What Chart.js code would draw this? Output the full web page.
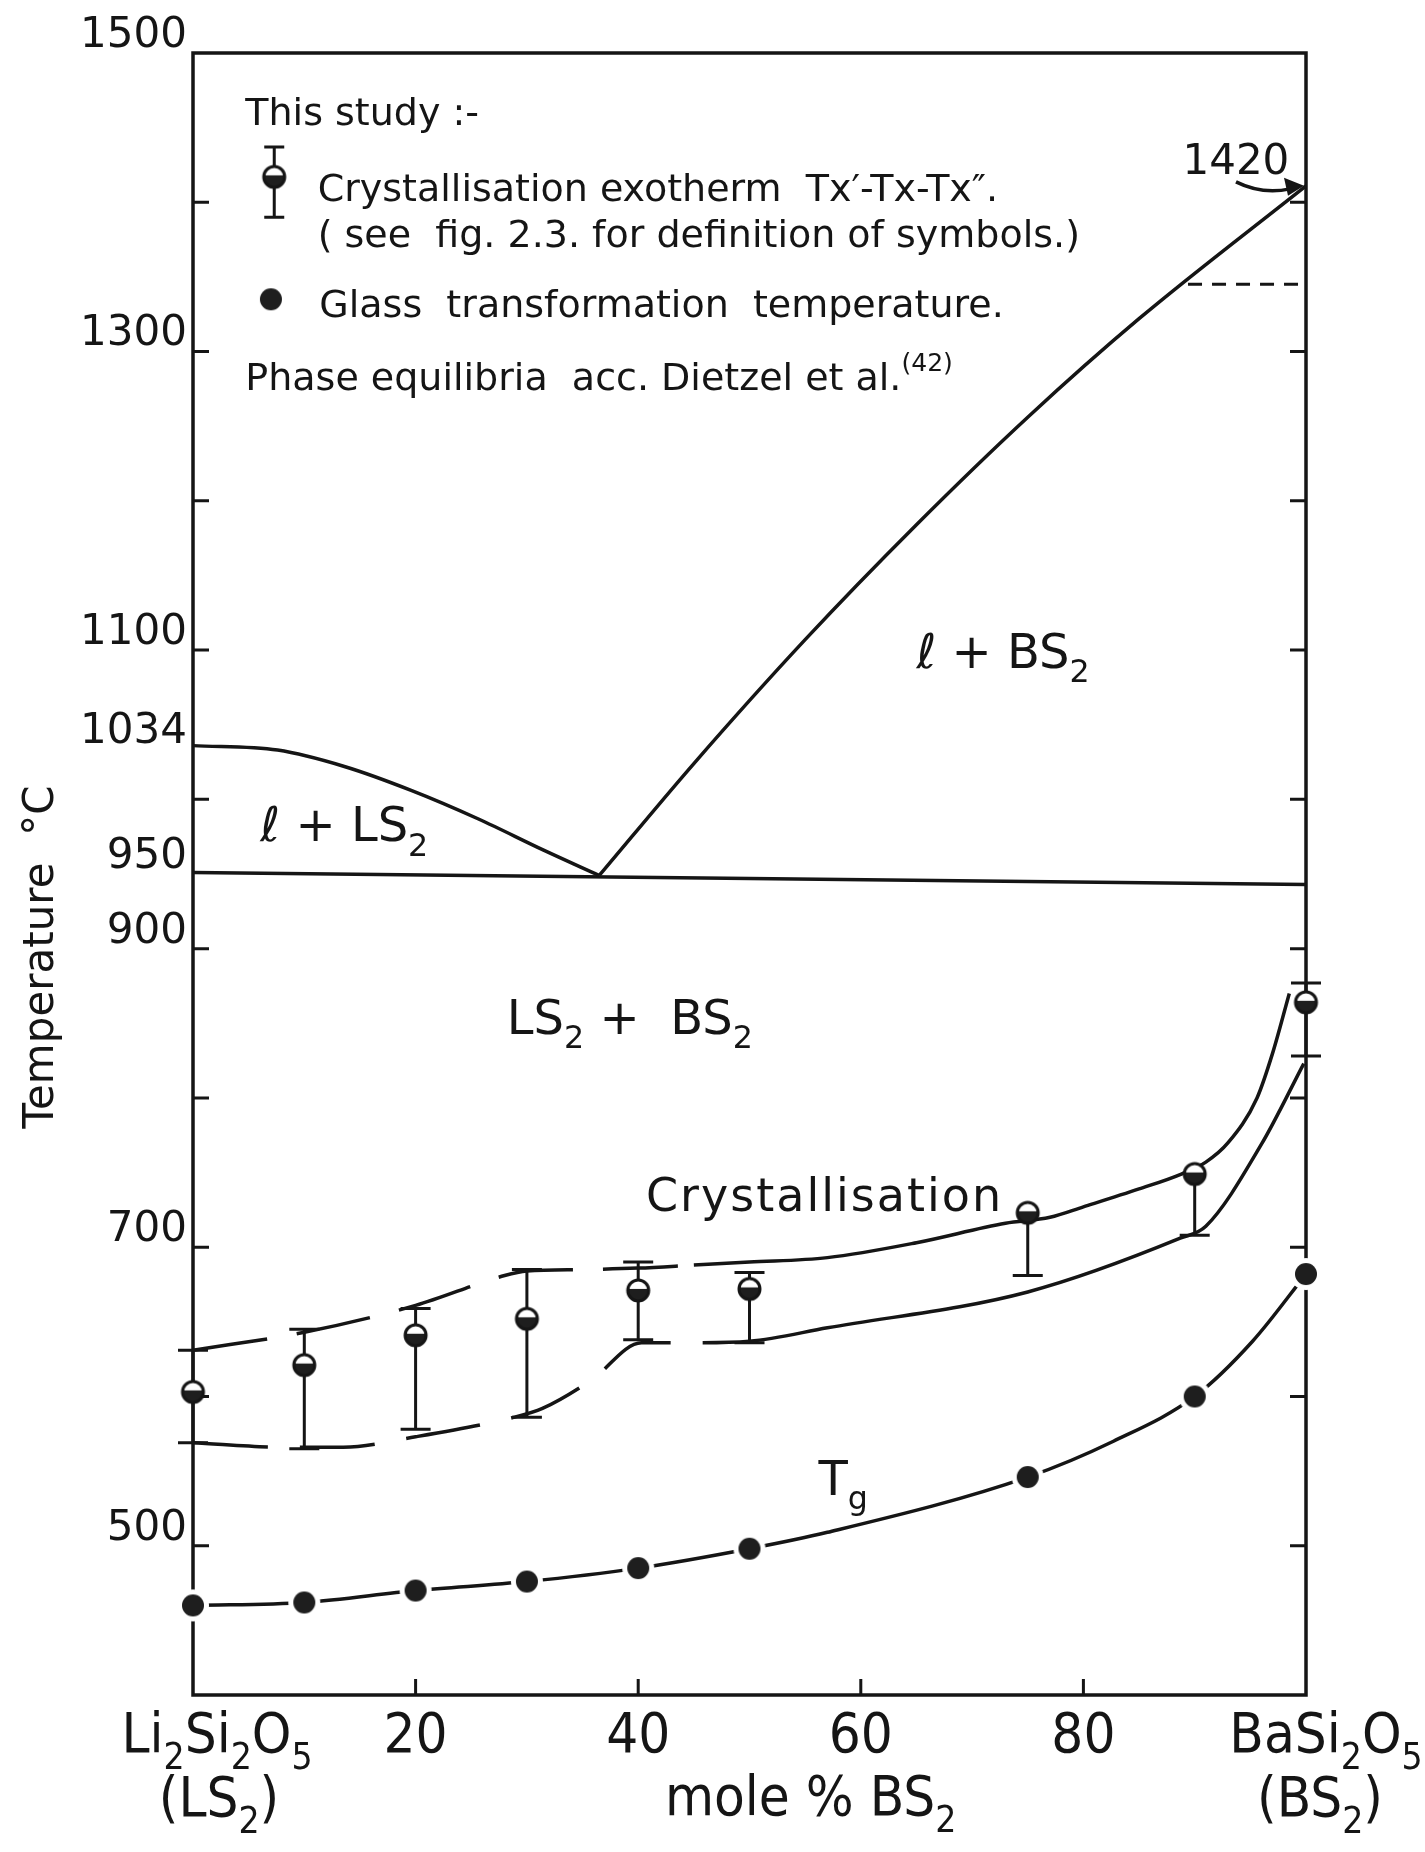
<!DOCTYPE html>
<html>
<head>
<meta charset="utf-8">
<title>Li2Si2O5 - BaSi2O5</title>
<script src="https://cdn.jsdelivr.net/npm/chart.js@4.4.0/dist/chart.umd.min.js"></script>
<style>
  html, body { margin: 0; padding: 0; background: #fff; }
  canvas { display: block; }
</style>
</head>
<body>
<canvas id="graficoFases" width="1425" height="1852"></canvas>
<script>
const composicion = [0, 10, 20, 30, 40, 50, 75, 90, 100];
const tgValores   = [460, 462, 470, 476, 485, 498, 546, 600, 682];
const txValores   = [603, 621, 641, 652, 671, 672, 723, 749, 864];
const txInicio    = [569, 565, 578, 586, 638, 636, 681, 708, 828];      // Tx'
const txFin       = [631, 645, 659, 685, 690, 683, null, null, 877];   // Tx''

// curves drawn through the measurements
const curvaSupX = [0, 10, 20, 28, 30, 35, 40, 45, 50, 57, 65, 73, 77, 80, 85, 88.8, 91, 93, 95.6, 97, 98.5];
const curvaSupT = [631, 643, 661, 681, 684, 685, 686, 688, 690, 693, 703, 716, 720, 727, 739, 749, 757, 770, 800, 830, 870];
const curvaInfX = [0, 8, 13.5, 20, 28.8, 31.4, 35.8, 40.3, 45, 50, 57, 75, 88.7, 91, 96, 99.8];
const curvaInfT = [569, 566, 566, 573, 586, 592, 611, 636, 636, 637, 646, 670, 706, 714, 769, 823];
const curvaTgX  = [0, 10, 20, 30, 40, 50, 57, 75, 82.7, 90, 95.2, 100];
const curvaTgT  = [460, 462, 470, 476, 485, 498, 509, 546, 570, 600, 637, 682];

// 2. Phase equilibria (Dietzel et al.)
const liqLsX = [0, 7.6, 13.6, 19.6, 25.6, 31.5, 36.5];
const liqLsT = [1036, 1033, 1022, 1006, 987, 966, 949];
const liqBsX = [36.5, 45, 55, 65, 75, 85, 100];
const liqBsT = [949, 1024, 1107, 1184, 1256, 1322, 1411];
const eutecticoX = [0, 100];
const eutecticoT = [951, 943];
const trazosX = [89.4, 100];
const trazosT = [1345, 1345];

// 3. Axis ticks
const yEtiquetas = [1500, 1300, 1100, 1034, 950, 900, 700, 500];
const yMarcasIzq = [500, 600, 700, 800, 900, 1000, 1100, 1200, 1300, 1400];
const yMarcasDer = [500, 600, 700, 800, 900, 1000, 1100, 1200, 1300, 1400];
const xMarcas = [20, 40, 60, 80];

const TINTA = '#151515';
const SANS = '"DejaVu Sans", sans-serif';
const CONDENSADA = '"DejaVu Sans Condensed", "DejaVu Sans", sans-serif';

const puntos = (xs, ys) => xs.map((x, i) => ({ x: x, y: ys[i] }));

// marker images
function marcadorTg(r) {
    const c = document.createElement('canvas');
    const s = Math.ceil(2 * r + 12);
    c.width = c.height = s;
    const g = c.getContext('2d');
    g.fillStyle = '#fff';
    g.beginPath(); g.arc(s / 2, s / 2, r + 5, 0, 2 * Math.PI); g.fill();
    g.fillStyle = '#1e1e1e';
    g.beginPath(); g.arc(s / 2, s / 2, r, 0, 2 * Math.PI); g.fill();
    return c;
}

function marcadorTx(r) {
    const c = document.createElement('canvas');
    const s = Math.ceil(2 * r + 8);
    c.width = c.height = s;
    const g = c.getContext('2d');
    const m = s / 2;
    g.fillStyle = '#fff';
    g.beginPath(); g.arc(m, m, r, 0, 2 * Math.PI); g.fill();
    g.save();
    g.beginPath(); g.arc(m, m, r, 0, 2 * Math.PI); g.clip();
    g.fillStyle = '#1e1e1e';
    g.fillRect(0, m - r * 0.15, s, s);
    g.restore();
    g.strokeStyle = TINTA;
    g.lineWidth = 3;
    g.beginPath(); g.arc(m, m, r, 0, 2 * Math.PI); g.stroke();
    return c;
}

const imgTg = marcadorTg(11);
const imgTx = marcadorTx(10.5);

// text with sub/superscripts
function anchoTexto(ctx, partes, size, fam) {
    let w = 0;
    partes.forEach(p => {
        const s = p[1] === 'n' ? size : size * 0.66;
        ctx.font = s + 'px ' + fam;
        w += ctx.measureText(p[0]).width;
    });
    return w;
}

function texto(ctx, partes, x, y, size, opts) {
    opts = opts || {};
    const fam = opts.fam || SANS;
    ctx.save();
    ctx.fillStyle = TINTA;
    ctx.textBaseline = 'alphabetic';
    ctx.textAlign = 'left';
    if (opts.espacio) ctx.letterSpacing = opts.espacio + 'px';
    let cx = x;
    if (opts.centro) cx = x - anchoTexto(ctx, partes, size, fam) / 2;
    partes.forEach(p => {
        let s = size, dy = 0;
        if (p[1] === 'sub') { s = size * 0.66; dy = size * 0.3; }
        if (p[1] === 'sup') { s = size * 0.66; dy = -size * 0.5; }
        ctx.font = s + 'px ' + fam;
        ctx.fillText(p[0], cx, y + dy);
        cx += ctx.measureText(p[0]).width;
    });
    ctx.restore();
}

// 4. Frame, inner ticks, error bars and all lettering
const dibujoFigura = {
    id: 'dibujoFigura',
    beforeDatasetsDraw(chart) {
        const ctx = chart.ctx;
        const a = chart.chartArea;
        const sx = chart.scales.x, sy = chart.scales.y;
        ctx.save();
        ctx.strokeStyle = TINTA;
        ctx.lineWidth = 3.5;
        ctx.strokeRect(a.left, a.top, a.right - a.left, a.bottom - a.top);

        ctx.lineWidth = 3;
        ctx.beginPath();
        yMarcasIzq.forEach(v => {
            const py = sy.getPixelForValue(v);
            ctx.moveTo(a.left, py); ctx.lineTo(a.left + 16, py);
        });
        yMarcasDer.forEach(v => {
            const py = sy.getPixelForValue(v);
            ctx.moveTo(a.right - 16, py); ctx.lineTo(a.right, py);
        });
        xMarcas.forEach(v => {
            const px = sx.getPixelForValue(v);
            ctx.moveTo(px, a.bottom); ctx.lineTo(px, a.bottom - 16);
        });
        ctx.stroke();

        // error bars Tx' - Tx''
        ctx.lineWidth = 3;
        ctx.beginPath();
        composicion.forEach((x, i) => {
            const px = sx.getPixelForValue(x);
            const pBajo = sy.getPixelForValue(txInicio[i]);
            const pAlto = sy.getPixelForValue(txFin[i] !== null ? txFin[i] : txValores[i]);
            ctx.moveTo(px, pBajo); ctx.lineTo(px, pAlto);
            ctx.moveTo(px - 15, pBajo); ctx.lineTo(px + 15, pBajo);
            if (txFin[i] !== null) {
                ctx.moveTo(px - 15, pAlto); ctx.lineTo(px + 15, pAlto);
            }
        });
        ctx.stroke();
        ctx.restore();
    },
    afterDraw(chart) {
        const ctx = chart.ctx;
        const a = chart.chartArea;
        const sx = chart.scales.x, sy = chart.scales.y;
        const X = v => sx.getPixelForValue(v);
        const Y = v => sy.getPixelForValue(v);

        // legend inside the plot
        texto(ctx, [['This study :-', 'n']], X(4.7), Y(1452), 38);
        texto(ctx, [['Crystallisation exotherm  Tx\u2032-Tx-Tx\u2033.', 'n']], X(11.2), Y(1401), 38);
        texto(ctx, [['( see  fig. 2.3. for definition of symbols.)', 'n']], X(11.2), Y(1370), 38);
        texto(ctx, [['Glass  transformation  temperature.', 'n']], X(11.35), Y(1323), 38);
        texto(ctx, [['Phase equilibria  acc. Dietzel et al.', 'n'], ['(42)', 'sup']], X(4.7), Y(1274), 38);

        ctx.save();
        ctx.strokeStyle = TINTA;
        ctx.lineWidth = 3;
        const lx = X(7.3);
        ctx.beginPath();
        ctx.moveTo(lx, Y(1437)); ctx.lineTo(lx, Y(1390));
        ctx.moveTo(lx - 10, Y(1437)); ctx.lineTo(lx + 10, Y(1437));
        ctx.moveTo(lx - 10, Y(1390)); ctx.lineTo(lx + 10, Y(1390));
        ctx.stroke();
        ctx.drawImage(imgTx, lx - imgTx.width / 2, Y(1417) - imgTx.height / 2);
        ctx.drawImage(imgTg, X(7.0) - imgTg.width / 2, Y(1335) - imgTg.height / 2);
        ctx.restore();

        // phase fields and curve names
        texto(ctx, [['\u2113 + BS', 'n'], ['2', 'sub']], X(65), Y(1088), 48);
        texto(ctx, [['\u2113 + LS', 'n'], ['2', 'sub']], X(6.05), Y(972), 48);
        texto(ctx, [['LS', 'n'], ['2', 'sub'], [' +  BS', 'n'], ['2', 'sub']], X(28.2), Y(843), 48);
        texto(ctx, [['Crystallisation', 'n']], X(40.7), Y(724), 46, { espacio: 2 });
        texto(ctx, [['T', 'n'], ['g', 'sub']], X(56.2), Y(534), 48);

        // 1420 with its arrow
        texto(ctx, [['1420', 'n']], X(88.9), Y(1419), 42);
        ctx.save();
        ctx.strokeStyle = TINTA;
        ctx.fillStyle = TINTA;
        ctx.lineWidth = 3.5;
        const ax = a.right, ay = Y(1411);
        ctx.beginPath();
        ctx.moveTo(ax - 70, ay - 4);
        ctx.quadraticCurveTo(ax - 44, ay + 9, ax - 16, ay + 3);
        ctx.stroke();
        ctx.beginPath();
        ctx.moveTo(ax - 2, ay);
        ctx.lineTo(ax - 22, ay - 8);
        ctx.lineTo(ax - 18, ay + 10);
        ctx.closePath();
        ctx.fill();
        ctx.restore();

        // x axis lettering
        const b = a.bottom;
        texto(ctx, [['Li', 'n'], ['2', 'sub'], ['Si', 'n'], ['2', 'sub'], ['O', 'n'], ['5', 'sub']], X(0) + 24, b + 57, 56, { fam: CONDENSADA, centro: true });
        texto(ctx, [['(LS', 'n'], ['2', 'sub'], [')', 'n']], X(0) + 26, b + 121, 56, { fam: CONDENSADA, centro: true });
        xMarcas.forEach(v => {
            texto(ctx, [[String(v), 'n']], X(v), b + 57, 56, { fam: CONDENSADA, centro: true });
        });
        texto(ctx, [['BaSi', 'n'], ['2', 'sub'], ['O', 'n'], ['5', 'sub']], X(100) + 20, b + 57, 56, { fam: CONDENSADA, centro: true });
        texto(ctx, [['(BS', 'n'], ['2', 'sub'], [')', 'n']], X(100) + 14, b + 121, 56, { fam: CONDENSADA, centro: true });
        texto(ctx, [['mole % BS', 'n'], ['2', 'sub']], X(55.5), b + 120, 56, { fam: CONDENSADA, centro: true });

        // y axis title
        ctx.save();
        ctx.fillStyle = TINTA;
        ctx.font = '42px ' + SANS;
        ctx.textAlign = 'center';
        ctx.textBaseline = 'middle';
        ctx.translate(42, (a.top + a.bottom) / 2 + 83);
        ctx.rotate(-Math.PI / 2);
        ctx.fillText('Temperature  \u00B0C', 0, 0);
        ctx.restore();
    }
};

// 5. Datasets
const linea = (xs, ys, extra) => Object.assign({
    data: puntos(xs, ys),
    showLine: true,
    borderColor: TINTA,
    borderWidth: 3.5,
    pointRadius: 0,
    cubicInterpolationMode: 'monotone',
    clip: false
}, extra || {});

const datos = {
    datasets: [
        { label: 'Tg', data: puntos(composicion, tgValores), pointStyle: imgTg, pointRadius: 12, showLine: false, clip: false },
        { label: 'Tx', data: puntos(composicion, txValores), pointStyle: imgTx, pointRadius: 12, showLine: false, clip: false },
        linea(curvaTgX, curvaTgT, { label: 'curva Tg' }),
        linea(curvaSupX, curvaSupT, {
            label: "Tx''",
            segment: { borderDash: c => (c.p1.parsed.x <= 45 ? [75, 30] : undefined) }
        }),
        linea(curvaInfX, curvaInfT, {
            label: "Tx'",
            segment: { borderDash: c => (c.p1.parsed.x <= 50 ? [75, 32] : undefined) }
        }),
        linea(liqLsX, liqLsT, { label: 'liquidus LS2' }),
        linea(liqBsX, liqBsT, { label: 'liquidus BS2' }),
        linea(eutecticoX, eutecticoT, { label: 'eutectic', cubicInterpolationMode: 'default', tension: 0 }),
        linea(trazosX, trazosT, { label: 'dashed', borderDash: [14, 10], borderWidth: 3, cubicInterpolationMode: 'default', tension: 0 })
    ]
};

// 6. Chart configuration
const configuracion = {
    type: 'scatter',
    data: datos,
    options: {
        responsive: false,
        animation: false,
        events: [],
        devicePixelRatio: 1,
        layout: { padding: { top: 53, right: 119, left: 0, bottom: 0 } },
        plugins: {
            legend: { display: false },
            tooltip: { enabled: false },
            title: { display: false }
        },
        scales: {
            x: {
                type: 'linear',
                min: 0,
                max: 100,
                grid: { display: false, drawTicks: false },
                border: { display: false },
                ticks: { display: false },
                afterFit: s => { s.height = 157; }
            },
            y: {
                type: 'linear',
                min: 400,
                max: 1500,
                grid: { display: false, drawTicks: false },
                border: { display: false },
                afterBuildTicks: s => {
                    s.ticks = yEtiquetas.slice().sort((p, q) => p - q).map(v => ({ value: v }));
                },
                ticks: {
                    autoSkip: false,
                    padding: 6,
                    labelOffset: -17,
                    color: TINTA,
                    font: { family: 'DejaVu Sans', size: 42 },
                    callback: v => String(v)
                },
                afterFit: s => { s.width = 193; }
            }
        }
    },
    plugins: [dibujoFigura]
};

const ctx = document.getElementById('graficoFases').getContext('2d');
new Chart(ctx, configuracion);
</script>
</body>
</html>
